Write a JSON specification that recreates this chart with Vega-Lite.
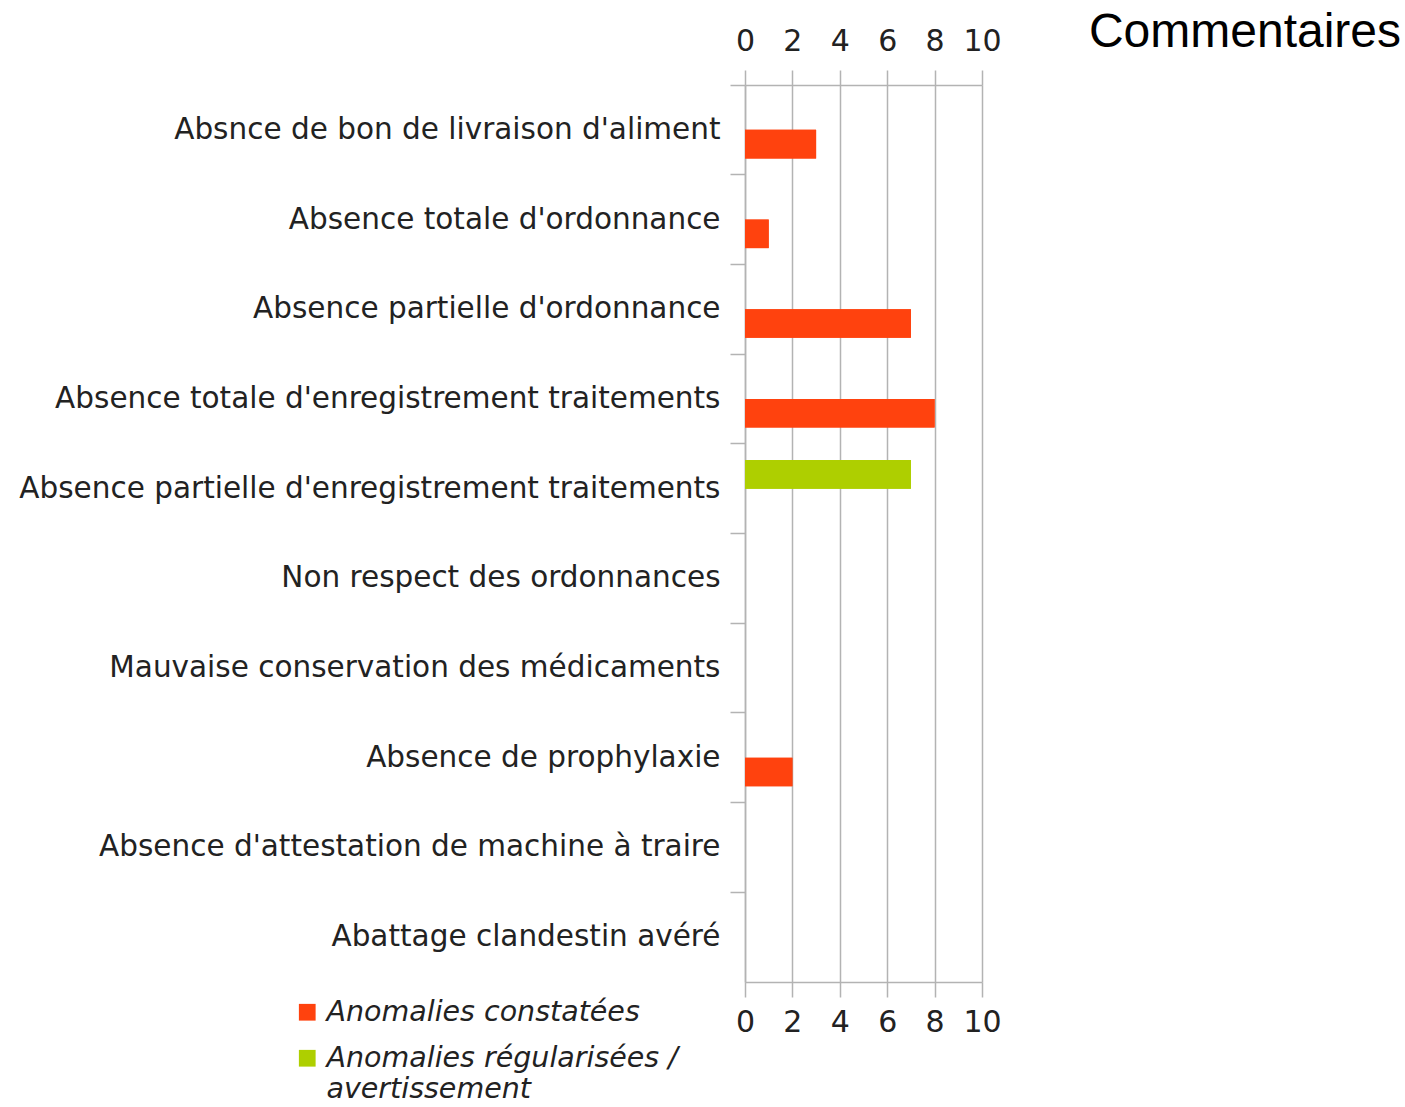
{
  "$schema": "https://vega.github.io/schema/vega-lite/v6.json",
  "width": 237,
  "height": 897,
  "autosize": {"type": "none"},
  "padding": {"left": 745, "top": 85, "right": 423, "bottom": 125},
  "background": "white",
  "title": {
    "text": "Commentaires",
    "anchor": "end",
    "frame": "group",
    "font": "Liberation Sans",
    "fontSize": 48,
    "fontWeight": "normal",
    "color": "#000000",
    "baseline": "alphabetic",
    "offset": 0,
    "dx": 419,
    "dy": 69
  },
  "data": {
    "values": [
      {"categorie": "Absnce de bon de livraison d'aliment", "serie": "Anomalies constatées", "nombre": 3},
      {"categorie": "Absence totale d'ordonnance", "serie": "Anomalies constatées", "nombre": 1},
      {"categorie": "Absence partielle d'ordonnance", "serie": "Anomalies constatées", "nombre": 7},
      {"categorie": "Absence totale d'enregistrement traitements", "serie": "Anomalies constatées", "nombre": 8},
      {"categorie": "Absence partielle d'enregistrement traitements", "serie": "Anomalies régularisées / avertissement", "nombre": 7},
      {"categorie": "Absence de prophylaxie", "serie": "Anomalies constatées", "nombre": 2}
    ]
  },
  "encoding": {
    "y": {
      "field": "categorie",
      "type": "nominal",
      "scale": {
        "domain": [
          "Absnce de bon de livraison d'aliment",
          "Absence totale d'ordonnance",
          "Absence partielle d'ordonnance",
          "Absence totale d'enregistrement traitements",
          "Absence partielle d'enregistrement traitements",
          "Non respect des ordonnances",
          "Mauvaise conservation des médicaments",
          "Absence de prophylaxie",
          "Absence d'attestation de machine à traire",
          "Abattage clandestin avéré"
        ],
        "paddingInner": 0,
        "paddingOuter": 0
      },
      "axis": {
        "title": null,
        "bandPosition": 0,
        "tickSize": 15,
        "tickColor": "#b3b3b3",
        "tickWidth": 1.5,
        "domainColor": "#b3b3b3",
        "domainWidth": 1.5,
        "labelPadding": 10,
        "labelFont": "DejaVu Sans",
        "labelFontSize": 29.5,
        "labelColor": "#222222",
        "labelLimit": 800,
        "labelBound": false,
        "grid": false
      }
    },
    "yOffset": {
      "field": "serie",
      "type": "nominal",
      "scale": {
        "domain": ["Anomalies régularisées / avertissement", "Anomalies constatées"],
        "paddingInner": 0,
        "paddingOuter": 0.57
      }
    },
    "color": {
      "field": "serie",
      "type": "nominal",
      "scale": {
        "domain": ["Anomalies constatées", "Anomalies régularisées / avertissement"],
        "range": ["#ff420e", "#aecf00"]
      },
      "legend": {
        "title": null,
        "orient": "none",
        "legendX": -452,
        "legendY": 913,
        "symbolType": "square",
        "symbolSize": 280,
        "symbolStrokeWidth": 0,
        "labelFont": "DejaVu Sans",
        "labelFontSize": 28.5,
        "labelFontStyle": "italic",
        "labelColor": "#222222",
        "labelLimit": 800,
        "labelOffset": 5,
        "rowPadding": 17,
        "labelExpr": "datum.label == 'Anomalies régularisées / avertissement' ? ['Anomalies régularisées /', 'avertissement'] : datum.label"
      }
    }
  },
  "layer": [
    {
      "mark": {"type": "bar"},
      "encoding": {
        "x": {
          "field": "nombre",
          "type": "quantitative",
          "scale": {"domain": [0, 10], "nice": false},
          "axis": {
            "orient": "top",
            "title": null,
            "values": [0, 2, 4, 6, 8, 10],
            "tickSize": 15,
            "tickColor": "#b3b3b3",
            "tickWidth": 1.5,
            "domainColor": "#b3b3b3",
            "domainWidth": 1.5,
            "grid": true,
            "gridColor": "#b3b3b3",
            "gridWidth": 1.5,
            "labelPadding": 14,
            "labelFont": "DejaVu Sans",
            "labelFontSize": 30,
            "labelColor": "#222222",
            "labelFlush": false
          }
        }
      }
    },
    {
      "mark": {"type": "bar"},
      "encoding": {
        "x": {
          "field": "nombre",
          "type": "quantitative",
          "scale": {"domain": [0, 10], "nice": false},
          "axis": {
            "orient": "bottom",
            "title": null,
            "values": [0, 2, 4, 6, 8, 10],
            "tickSize": 15,
            "tickColor": "#b3b3b3",
            "tickWidth": 1.5,
            "domainColor": "#b3b3b3",
            "domainWidth": 1.5,
            "grid": false,
            "labelPadding": 10,
            "labelFont": "DejaVu Sans",
            "labelFontSize": 30,
            "labelColor": "#222222",
            "labelFlush": false
          }
        }
      }
    }
  ],
  "resolve": {"axis": {"x": "independent"}},
  "config": {"view": {"stroke": null}}
}
